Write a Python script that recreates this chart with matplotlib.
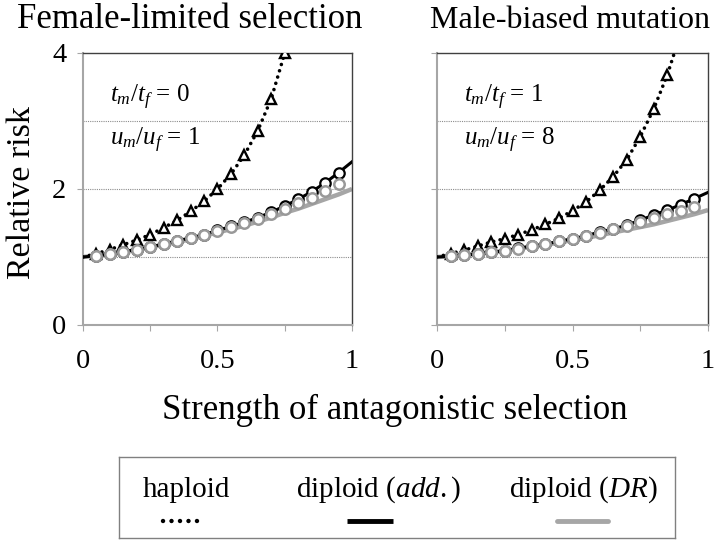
import matplotlib
matplotlib.use("Agg")
import matplotlib.pyplot as plt
from matplotlib.lines import Line2D

plt.rcParams['font.family'] = ['Liberation Serif', 'DejaVu Serif']
plt.rcParams['mathtext.fontset'] = 'custom'
plt.rcParams['mathtext.rm'] = 'Liberation Serif'
plt.rcParams['mathtext.it'] = 'Liberation Serif:italic'

# strength of antagonistic selection
s_line = [0.0, 0.05, 0.1, 0.15, 0.2, 0.25, 0.3, 0.35, 0.4, 0.45, 0.5,
          0.55, 0.6, 0.65, 0.7, 0.75, 0.8, 0.85, 0.9, 0.95, 1.0]
s_pts = s_line[1:-1]

# --- Female-limited selection (left panel) ---
fl_hap_s = [0.0, 0.05, 0.1, 0.15, 0.2, 0.25, 0.3, 0.35, 0.4, 0.45, 0.5,
            0.55, 0.6, 0.65, 0.7, 0.75, 0.8]
fl_hap = [1.0, 1.05, 1.11, 1.18, 1.25, 1.33, 1.43, 1.54, 1.67, 1.82, 2.0,
          2.22, 2.5, 2.86, 3.33, 4.0, 5.0]
fl_add = [1.0, 1.02, 1.04, 1.08, 1.11, 1.15, 1.19, 1.24, 1.28, 1.33, 1.39,
          1.45, 1.51, 1.58, 1.66, 1.75, 1.85, 1.96, 2.09, 2.24, 2.40]
fl_dr = [1.0, 1.02, 1.04, 1.07, 1.10, 1.14, 1.18, 1.22, 1.26, 1.31, 1.36,
         1.41, 1.46, 1.52, 1.58, 1.65, 1.71, 1.78, 1.85, 1.92, 2.0]
fl_dr_pts = [1.02, 1.04, 1.08, 1.11, 1.15, 1.19, 1.24, 1.28, 1.33, 1.38,
             1.44, 1.50, 1.56, 1.63, 1.71, 1.79, 1.87, 1.97, 2.08]

# --- Male-biased mutation (right panel) ---
mb_hap_s = [0.0, 0.05, 0.1, 0.15, 0.2, 0.25, 0.3, 0.35, 0.4, 0.45, 0.5,
            0.55, 0.6, 0.65, 0.7, 0.75, 0.8, 0.85, 0.9]
mb_hap = [1.0, 1.05, 1.10, 1.16, 1.22, 1.27, 1.33, 1.40, 1.48, 1.57, 1.68,
          1.81, 1.98, 2.18, 2.43, 2.77, 3.18, 3.68, 4.3]
mb_add = [1.0, 1.01, 1.03, 1.04, 1.07, 1.09, 1.13, 1.16, 1.19, 1.23, 1.27,
          1.31, 1.37, 1.41, 1.47, 1.54, 1.62, 1.69, 1.77, 1.86, 1.95]
mb_dr = [1.0, 1.01, 1.03, 1.05, 1.07, 1.09, 1.12, 1.15, 1.18, 1.21, 1.25,
         1.28, 1.32, 1.36, 1.40, 1.44, 1.48, 1.53, 1.58, 1.63, 1.69]
mb_dr_pts = [1.01, 1.03, 1.04, 1.07, 1.09, 1.12, 1.16, 1.19, 1.23, 1.27,
             1.31, 1.36, 1.41, 1.46, 1.52, 1.57, 1.63, 1.68, 1.74]

panels = [
    dict(title="Female-limited selection", hs=fl_hap_s, hap=fl_hap, add=fl_add,
         dr=fl_dr, drp=fl_dr_pts, t="0", u="1"),
    dict(title="Male-biased mutation", hs=mb_hap_s, hap=mb_hap, add=mb_add,
         dr=mb_dr, drp=mb_dr_pts, t="1", u="8"),
]

GRAY = '#a6a6a6'
fig = plt.figure(figsize=(7.17, 5.41), dpi=100)
W, H = 717, 541

ax_boxes = [(83, 352), (437, 708)]
title_x = [190, 570]
title_size = [25, 23]
for k, (p, (x0, x1)) in enumerate(zip(panels, ax_boxes)):
    ax = fig.add_axes([x0 / W, 1 - 325 / H, (x1 - x0) / W, (325 - 53) / H])
    for yv in (1, 2, 3):
        ax.axhline(yv, color='#8c8c8c', lw=0.8, ls=(0, (1, 1)), zorder=1)

    ax.plot(s_line, p['dr'], color=GRAY, lw=3.2, solid_capstyle='butt', zorder=2)
    ax.plot(s_line, p['add'], color='black', lw=2.2, zorder=3)
    ax.plot(p['hs'], p['hap'], color='black', lw=2.6, ls=(0, (0.01, 1.8)),
            dash_capstyle='round', zorder=3)

    n = sum(1 for v in p['hap'][1:] if v <= 4.05)
    ax.plot(p['hs'][1:n + 1], p['hap'][1:n + 1], ls='none', marker='^', ms=7,
            mfc='white', mec='black', mew=1.7, zorder=4)
    ax.plot(s_pts, p['add'][1:-1], ls='none', marker='o', ms=7.5,
            mfc='white', mec='black', mew=1.6, zorder=5)
    ax.plot(s_pts, p['drp'], ls='none', marker='o', ms=7.5,
            mfc='white', mec='#999999', mew=1.8, zorder=6)

    ax.set_xlim(0, 1)
    ax.set_ylim(0, 4)
    ax.set_xticks([0, 0.25, 0.5, 0.75, 1])
    ax.set_xticklabels(['0', '', '0.5', '', '1'])
    ax.set_yticks([0, 2, 4])
    if k == 0:
        ax.set_yticklabels(['0', '2', '4'])
    else:
        ax.set_yticklabels([])
    ax.tick_params(axis='x', length=4, color=GRAY, labelsize=20.5, pad=13)
    ax.tick_params(axis='y', length=4, color=GRAY, labelsize=20.5, pad=8)
    for side in ('left', 'bottom'):
        ax.spines[side].set_color(GRAY)
        ax.spines[side].set_linewidth(1.5)
    for side in ('top', 'right'):
        ax.spines[side].set_color('#404040')
        ax.spines[side].set_linewidth(1.0)

    ax.text(0.1, 3.35, r'$t_m/t_f$ = ' + p['t'], fontsize=18, va='center')
    ax.text(0.1, 2.72, r'$u_m/u_f$ = ' + p['u'], fontsize=18, va='center')

    fig.text(title_x[k] / W, 1 - 20 / H, p['title'], fontsize=title_size[k],
             ha='center', va='center')

fig.text(22 / W, 1 - 193 / H, 'Relative risk', fontsize=24.5, rotation=90,
         ha='center', va='center')
fig.text(395 / W, 1 - 410 / H, 'Strength of antagonistic selection', fontsize=25,
         ha='center', va='center')

# legend box with label above its line sample
lg = fig.add_axes([119 / W, 1 - 538 / H, (675 - 119) / W, (538 - 457) / H])
lg.set_xlim(119, 675)
lg.set_ylim(538, 457)
lg.set_xticks([])
lg.set_yticks([])
for sp in lg.spines.values():
    sp.set_color('#808080')
    sp.set_linewidth(1.0)

labels = ['haploid', r'diploid ($add.$)', r'diploid ($DR$)']
label_x = [186, 379, 583]
samples = [
    dict(x=(163, 197), color='black', lw=3.2, ls=(0, (0.01, 1.9)), cap='round'),
    dict(x=(347, 393), color='black', lw=3.5, ls='-', cap='butt'),
    dict(x=(557, 608), color=GRAY, lw=3.5, ls='-', cap='round'),
]
for lab, lx, smp in zip(labels, label_x, samples):
    lg.text(lx, 490, lab, fontsize=21, ha='center', va='center')
    ln = Line2D(smp['x'], (521, 521), color=smp['color'], lw=smp['lw'],
                ls=smp['ls'], dash_capstyle=smp['cap'], solid_capstyle=smp['cap'])
    lg.add_line(ln)

fig.savefig('out.png', dpi=100)
